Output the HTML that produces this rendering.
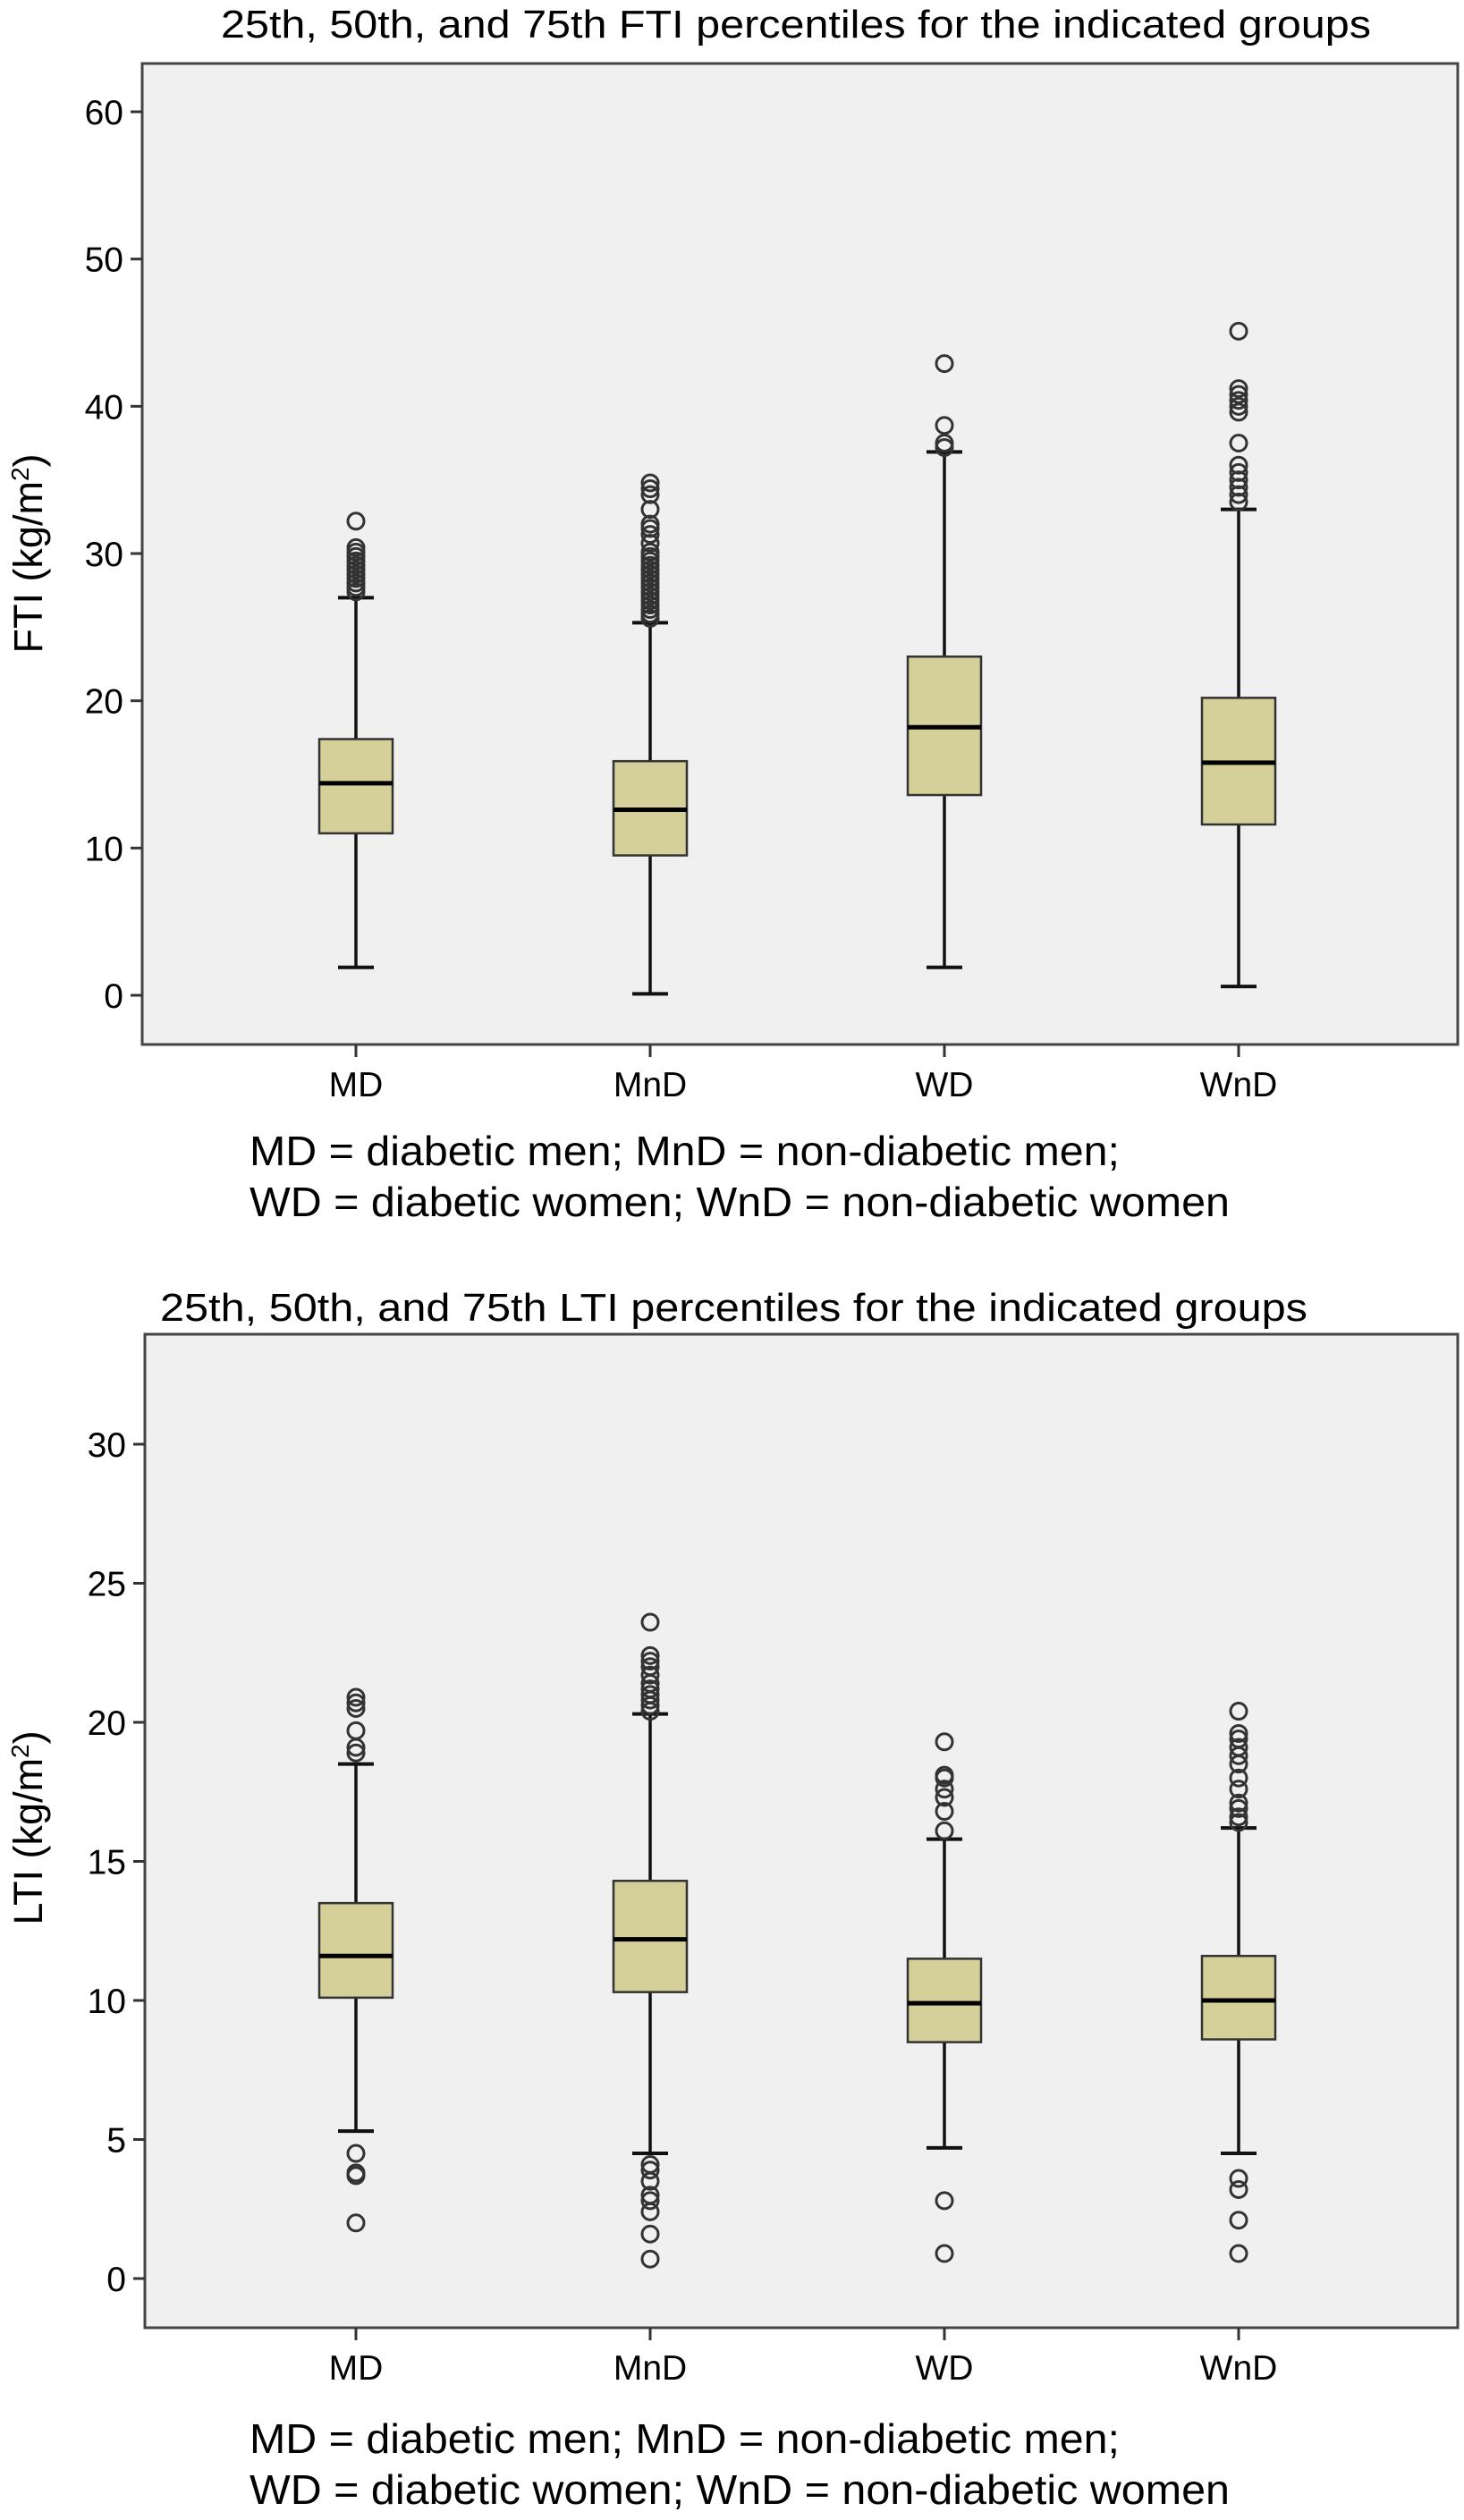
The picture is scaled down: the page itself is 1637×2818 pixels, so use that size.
<!DOCTYPE html>
<html><head><meta charset="utf-8"><style>
html,body{margin:0;padding:0;background:#fff;}
svg{display:block;}
text{font-family:"Liberation Sans",Arial,sans-serif;fill:#000;}
</style></head><body>
<svg id="fig" width="1637" height="2818" viewBox="0 0 1637 2818" xmlns="http://www.w3.org/2000/svg"></svg>
<script>
// ---- shared categories ----
const categories = ["MD","MnD","WD","WnD"];
// ---- FTI chart data ----
const ftiTicks = [0,10,20,30,40,50,60];
const ftiLow = [1.9, 0.1, 1.9, 0.6];
const ftiQ1 = [11.0, 9.5, 13.6, 11.6];
const ftiMed = [14.4, 12.6, 18.2, 15.8];
const ftiQ3 = [17.4, 15.9, 23.0, 20.2];
const ftiHigh = [27.0, 25.3, 36.9, 33.0];
const ftiOutMD = [27.4,27.7,28.0,28.3,28.6,28.9,29.2,29.5,29.8,30.1,30.4,32.2];
const ftiOutMnD = [25.6,25.9,26.2,26.5,26.8,27.1,27.4,27.7,28.0,28.3,28.6,28.9,29.2,29.5,29.8,30.1,30.7,31.3,31.7,32.0,33.0,34.0,34.4,34.8];
const ftiOutWD = [37.2,37.5,38.7,42.9];
const ftiOutWnD = [33.5,34.0,34.5,35.0,35.5,36.0,37.5,39.6,40.0,40.4,40.8,41.2,45.1];
// ---- LTI chart data ----
const ltiTicks = [0,5,10,15,20,25,30];
const ltiLow = [5.3, 4.5, 4.7, 4.5];
const ltiQ1 = [10.1, 10.3, 8.5, 8.6];
const ltiMed = [11.6, 12.2, 9.9, 10.0];
const ltiQ3 = [13.5, 14.3, 11.5, 11.6];
const ltiHigh = [18.5, 20.3, 15.8, 16.2];
const ltiOutMD = [18.9,19.1,19.7,20.5,20.7,20.9,4.5,3.8,3.7,2.0];
const ltiOutMnD = [20.4,20.6,20.8,21.0,21.2,21.4,21.7,22.0,22.2,22.4,23.6,4.1,3.9,3.5,3.0,2.8,2.4,1.6,0.7];
const ltiOutWD = [16.1,16.8,17.3,17.6,18.0,18.1,19.3,2.8,0.9];
const ltiOutWnD = [16.4,16.6,16.9,17.1,17.6,18.0,18.5,18.8,19.1,19.4,19.6,20.4,3.6,3.2,2.1,0.9];

const NS = "http://www.w3.org/2000/svg";
const svg = document.getElementById("fig");
function mk(tag, attrs, parent){
  const e = document.createElementNS(NS, tag);
  for (const k in attrs) e.setAttribute(k, attrs[k]);
  (parent||svg).appendChild(e);
  return e;
}

function drawChart(cfg){
  const g = mk("g", {});
  
  
  const yS = v => cfg.y0 + (v - 0) * (cfg.y1 - cfg.y0) / (cfg.tickMax);
  const xS = i => cfg.xFirst + i * cfg.xStep;
  const t = mk("text", {x: cfg.titleX, y: cfg.titleY, "font-size": 44, textLength: cfg.titleW, lengthAdjust: "spacingAndGlyphs"}, g);
  t.textContent = cfg.title;
  
  
  const fr = mk("rect", {x: cfg.L, y: cfg.T, width: cfg.R - cfg.L, height: cfg.B - cfg.T, fill: "#f0f0f0", stroke: "#444", "stroke-width": 3}, g);
  
  
  cfg.ticks.forEach(v => {
    const y = yS(v);
    const ln = mk("line", {x1: cfg.L - 13, x2: cfg.L, y1: y, y2: y, stroke: "#333", "stroke-width": 3}, g);
    
    
    const tx = mk("text", {x: cfg.L - 21, y: y + 14, "font-size": 39, "text-anchor": "end"}, g);
    tx.textContent = String(v);
    
    
  });
  const yt = mk("text", {x: 0, y: 0, "font-size": 45, "text-anchor": "middle", transform: `translate(${cfg.yTitleX},${cfg.yTitleY}) rotate(-90)`}, g);
  yt.innerHTML = cfg.yTitle + ' (kg/m<tspan baseline-shift="super" font-size="28">2</tspan>)';
  
  
  const bw = 82;
  categories.forEach((c, i) => {
    const x = xS(i);
    const xt = mk("line", {x1: x, x2: x, y1: cfg.B, y2: cfg.B + 14, stroke: "#333", "stroke-width": 3}, g);
    
    
    const xl = mk("text", {x: x, y: cfg.B + 58, "font-size": 39, "text-anchor": "middle"}, g);
    xl.textContent = c;
    
    
    const bg = mk("g", {}, g);
    
    
    const w1 = mk("line", {x1: x, x2: x, y1: yS(cfg.low[i]), y2: yS(cfg.q1[i]), stroke: "#111", "stroke-width": 3.5}, bg);
    
    
    const w2 = mk("line", {x1: x, x2: x, y1: yS(cfg.q3[i]), y2: yS(cfg.high[i]), stroke: "#111", "stroke-width": 3.5}, bg);
    
    
    [cfg.low[i], cfg.high[i]].forEach(v => {
      const cap = mk("line", {x1: x - 20, x2: x + 20, y1: yS(v), y2: yS(v), stroke: "#111", "stroke-width": 4}, bg);
      
      
    });
    const r = mk("rect", {x: x - bw/2, y: yS(cfg.q3[i]), width: bw, height: yS(cfg.q1[i]) - yS(cfg.q3[i]), fill: "#d5cf9a", stroke: "#333", "stroke-width": 2.5}, bg);
    
    
    const md = mk("line", {x1: x - bw/2, x2: x + bw/2, y1: yS(cfg.med[i]), y2: yS(cfg.med[i]), stroke: "#000", "stroke-width": 5}, bg);
    
    
    cfg.outs[i].forEach(v => {
      const o = mk("circle", {cx: x, cy: yS(v), r: 9, fill: "none", stroke: "#333", "stroke-width": 3}, bg);
      
      
    });
  });
  const footW = [973, 1096];
  cfg.foot.forEach((line, k) => {
    const f = mk("text", {x: 279, y: cfg.footY + k * 57, "font-size": 46, textLength: footW[k], lengthAdjust: "spacingAndGlyphs"}, g);
    f.textContent = line;
    
    
  });
}

const foot = ["MD = diabetic men; MnD = non-diabetic men;", "WD = diabetic women; WnD = non-diabetic women"];

drawChart({
  name: "fti-chart", title: "25th, 50th, and 75th FTI percentiles for the indicated groups",
  titleX: 247, titleY: 42, titleW: 1286,
  L: 159, R: 1630, T: 71, B: 1168,
  y0: 1113, y1: 125, tickMax: 60, ticks: ftiTicks,
  xFirst: 398, xStep: 329,
  yTitle: "FTI", yTitleX: 47, yTitleY: 619,
  low: ftiLow, q1: ftiQ1, med: ftiMed, q3: ftiQ3, high: ftiHigh,
  outs: [ftiOutMD, ftiOutMnD, ftiOutWD, ftiOutWnD],
  foot: foot, footY: 1303
});
drawChart({
  name: "lti-chart", title: "25th, 50th, and 75th LTI percentiles for the indicated groups",
  titleX: 179, titleY: 1477, titleW: 1283,
  L: 162, R: 1630, T: 1492, B: 2603,
  y0: 2548, y1: 1615, tickMax: 30, ticks: ltiTicks,
  xFirst: 398, xStep: 329,
  yTitle: "LTI", yTitleX: 47, yTitleY: 2044,
  low: ltiLow, q1: ltiQ1, med: ltiMed, q3: ltiQ3, high: ltiHigh,
  outs: [ltiOutMD, ltiOutMnD, ltiOutWD, ltiOutWnD],
  foot: foot, footY: 2743
});
</script>
</body></html>
